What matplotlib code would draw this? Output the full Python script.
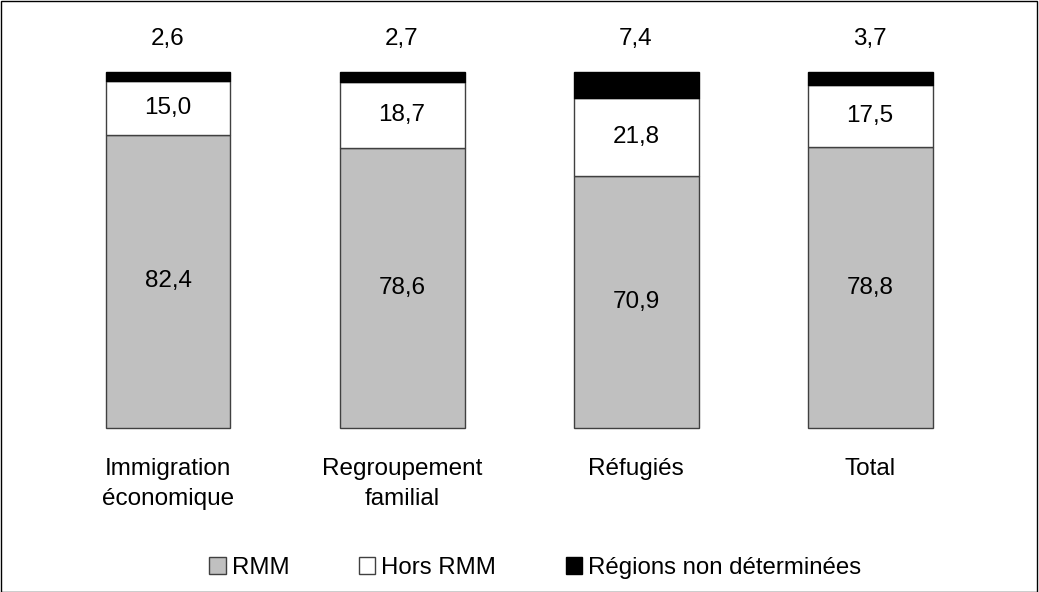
import matplotlib.pyplot as plt
from matplotlib.patches import Rectangle
import numpy as np

plt.rcParams['font.family'] = ['Liberation Sans', 'DejaVu Sans']

categories = ['Immigration\néconomique', 'Regroupement\nfamilial', 'Réfugiés', 'Total']
rmm = [82.4, 78.6, 70.9, 78.8]
hors_rmm = [15.0, 18.7, 21.8, 17.5]
non_det = [2.6, 2.7, 7.4, 3.7]
series_names = ['RMM', 'Hors RMM', 'Régions non déterminées']

fig = plt.figure(figsize=(10.39, 5.92), dpi=100)
ax = fig.add_axes([0, 0, 1, 1])
ax.set_xlim(-0.718, 3.722)
ax.set_ylim(-46.07, 120.22)
ax.axis('off')

x = np.arange(len(categories))
w = 0.534
edge = '#404040'

ax.bar(x, rmm, w, color='#c0c0c0', edgecolor=edge, linewidth=1, label=series_names[0])
ax.bar(x, hors_rmm, w, bottom=rmm, color='white', edgecolor=edge, linewidth=1,
       label=series_names[1])
bottom2 = np.array(rmm) + np.array(hors_rmm)
ax.bar(x, non_det, w, bottom=bottom2, color='black', edgecolor='black', linewidth=1,
       label=series_names[2])

fmt = lambda v: f'{v:.1f}'.replace('.', ',')
for i in range(len(categories)):
    ax.text(x[i], rmm[i] / 2, fmt(rmm[i]), ha='center', va='center', fontsize=17.5)
    ax.text(x[i], rmm[i] + hors_rmm[i] / 2, fmt(hors_rmm[i]), ha='center', va='center',
            fontsize=17.5)
    ax.text(x[i], 109.4, fmt(non_det[i]), ha='center', va='center', fontsize=17.5)
    ax.text(x[i], -8.4, categories[i], ha='center', va='top', fontsize=17.5,
            linespacing=1.45)

leg = fig.legend(loc='center', bbox_to_anchor=(0.5154, 0.0405), ncol=3, frameon=False,
                 fontsize=17.3, handlelength=0.68, handleheight=0.68, handletextpad=0.25,
                 columnspacing=2.9)

# border around the whole picture
fig.patches.append(Rectangle((0.0005, 0.0008), 0.998, 0.998, transform=fig.transFigure,
                             fill=False, edgecolor='black', linewidth=1))

fig.savefig('out.png', dpi=100)
plt.close()
